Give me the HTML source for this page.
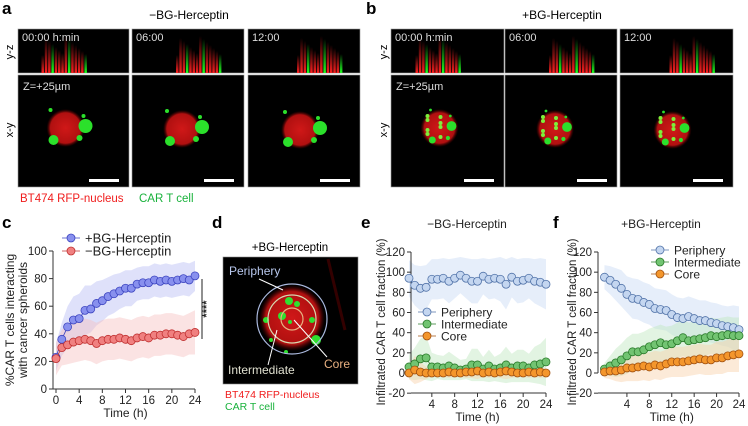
<!DOCTYPE html>
<html><head><meta charset="utf-8">
<style>
html,body{margin:0;padding:0;background:#fff;}
body{width:748px;height:426px;overflow:hidden;position:relative;font-family:"Liberation Sans",Arial,sans-serif;}
svg{position:absolute;left:0;top:0;}
</style></head>
<body>
<svg id="fig" width="748" height="426" viewBox="0 0 748 426" xmlns="http://www.w3.org/2000/svg" font-family="Liberation Sans, Arial, sans-serif">
<defs>
  <radialGradient id="sph" cx="50%" cy="50%" r="50%">
    <stop offset="0%" stop-color="#d01818"/><stop offset="80%" stop-color="#b01010"/><stop offset="100%" stop-color="#500000" stop-opacity="0"/>
  </radialGradient>
  <linearGradient id="yzr" x1="0" y1="1" x2="0" y2="0">
    <stop offset="0%" stop-color="#ff2020"/><stop offset="100%" stop-color="#ff2020" stop-opacity="0"/>
  </linearGradient>
  <linearGradient id="yzg" x1="0" y1="1" x2="0" y2="0">
    <stop offset="0%" stop-color="#20ff20"/><stop offset="100%" stop-color="#20ff20" stop-opacity="0"/>
  </linearGradient>
</defs>
<g id="micro"></g>
<g font-weight="bold" font-size="17" fill="#000">
  <text x="2" y="14">a</text>
  <text x="366" y="14">b</text>
  <text x="2" y="228">c</text>
  <text x="212" y="228">d</text>
  <text x="361" y="228">e</text>
  <text x="553" y="228">f</text>
</g>
<text x="189" y="19" font-size="12" text-anchor="middle">−BG-Herceptin</text>
<text x="562" y="19" font-size="12" text-anchor="middle">+BG-Herceptin</text>
<text transform="translate(13,52) rotate(-90)" font-size="11" text-anchor="middle">y-z</text>
<text transform="translate(13,130) rotate(-90)" font-size="11" text-anchor="middle">x-y</text>
<text transform="translate(387,52) rotate(-90)" font-size="11" text-anchor="middle">y-z</text>
<text transform="translate(387,130) rotate(-90)" font-size="11" text-anchor="middle">x-y</text>
<text x="20" y="202" font-size="11.5" fill="#f01c1c">BT474 RFP-nucleus</text>
<text x="139" y="202" font-size="11.5" fill="#19b23c">CAR T cell</text>

<!-- panel d -->
<g>
  <text x="290" y="251" font-size="11.5" text-anchor="middle">+BG-Herceptin</text>
  <rect x="223" y="257" width="135" height="127" fill="#000" stroke="#888" stroke-width="0.6"/>
  <line x1="328" y1="259" x2="345" y2="330" stroke="#300" stroke-width="3"/>
  <circle cx="292" cy="318" r="33" fill="url(#sph)"/>
  <g fill="#2fe02f">
    <circle cx="289" cy="301" r="4"/><circle cx="297" cy="304" r="3"/><circle cx="282" cy="316" r="4"/>
    <circle cx="266" cy="320" r="3"/><circle cx="312" cy="320" r="3"/><circle cx="316" cy="340" r="5"/>
    <circle cx="290" cy="322" r="2"/><circle cx="271" cy="340" r="2"/><circle cx="286" cy="352" r="2"/>
  </g>
  <circle cx="292" cy="319" r="35" fill="none" stroke="#aab8dd" stroke-width="1.2"/>
  <circle cx="292" cy="319" r="24" fill="none" stroke="#d8d8b0" stroke-width="1.2"/>
  <circle cx="292" cy="319" r="11" fill="none" stroke="#e8b080" stroke-width="1.2"/>
  <line x1="259" y1="279" x2="283" y2="290" stroke="#fff" stroke-width="1"/>
  <line x1="294" y1="320" x2="327" y2="357" stroke="#fff" stroke-width="1"/>
  <line x1="277" y1="330" x2="268" y2="365" stroke="#fff" stroke-width="1"/>
  <text x="229" y="275" font-size="12" fill="#b8c8ee">Periphery</text>
  <text x="228" y="374" font-size="12" fill="#e0e0d0">Intermediate</text>
  <text x="324" y="368" font-size="12" fill="#e8b080">Core</text>
  <text x="225" y="398" font-size="10.5" fill="#f01c1c">BT474 RFP-nucleus</text>
  <text x="225" y="410" font-size="10.5" fill="#19b23c">CAR T cell</text>
</g>

<g id="chartC"></g>
<g id="chartE"></g>
<g id="chartF"></g>
</svg>
<script>
// ---------- chart data ----------
const hours = [0,1,2,3,4,5,6,7,8,9,10,11,12,13,14,15,16,17,18,19,20,21,22,23,24];
const cPlus = [23,36,45,50,51,57,58,62,64,67,69,71,73,73,76,77,77,79,78,79,78,79,80,79,82];
const cPlusSd = [10,12,15,17,18,18,17,16,15,14,14,13,13,13,12,12,12,12,12,12,12,12,12,12,11];
const cMinus = [22,30,32,34,35,36,35,33,35,36,36,37,36,35,37,38,37,39,39,40,40,39,38,40,41];
const cMinusSd = [12,13,14,15,15,15,15,15,15,15,15,15,15,15,15,15,15,15,15,15,15,15,15,15,16];
const cTicksY = [0,20,40,60,80,100];
const cTicksX = [0,4,8,12,16,20,24];

const ePeriph = [94,87,84,85,93,93,94,91,94,97,94,91,91,96,93,94,93,88,95,91,92,94,91,90,88];
const ePeriphSd = [18,20,22,22,20,20,20,22,20,18,20,22,22,18,20,20,22,25,20,22,22,20,22,24,25];
const eInter = [6,9,14,15,6,6,5,7,5,3,4,8,8,4,7,4,5,8,5,7,7,5,8,9,11];
const eInterSd = [12,16,20,22,14,12,12,14,12,10,10,16,16,12,16,12,14,18,14,16,16,14,18,20,24];
const eCore = [0,3,1,0,0,0,0,1,0,0,1,1,2,0,1,0,1,2,1,0,0,1,0,1,0];
const eCoreSd = [6,14,10,6,4,4,4,6,4,4,6,6,8,4,6,4,6,8,6,4,4,6,4,6,4];

const fPeriph = [95,92,88,84,78,74,73,70,68,64,63,62,58,55,54,56,54,52,52,50,49,47,46,45,43];
const fPeriphSd = [12,14,16,18,18,20,20,20,20,20,20,20,20,20,20,20,20,20,20,20,20,20,20,22,23];
const fInter = [4,7,10,13,17,21,21,23,26,28,30,28,29,32,35,32,33,34,35,37,36,37,38,37,37];
const fInterSd = [6,10,14,16,18,18,18,18,18,18,18,18,18,18,18,18,18,18,18,18,18,18,18,18,18];
const fCore = [1,2,2,3,5,5,6,7,6,8,7,9,11,11,11,12,13,14,13,13,15,15,17,18,19];
const fCoreSd = [6,8,10,12,13,13,14,14,14,14,14,14,15,15,15,15,15,15,15,15,16,16,16,17,18];
const efTicksY = [-20,0,20,40,60,80,100,120];
const efTicksX = [4,8,12,16,20,24];

// ---------- microscopy panels ----------
const NS = 'http://www.w3.org/2000/svg';
function mk(tag, attrs, parent){const e=document.createElementNS(NS,tag);for(const k in attrs)e.setAttribute(k,attrs[k]);parent.appendChild(e);return e;}
const micro = document.getElementById('micro');
const cols = [[18,129],[132,244],[248,360],[391,504],[505,617],[620,733]];
const stamps = ['00:00 h:min','06:00','12:00'];
cols.forEach((c,i)=>{
  const w=c[1]-c[0];
  const yz=mk('rect',{x:c[0],y:29,width:w,height:44,fill:'#000',stroke:'#999','stroke-width':0.6},micro);
  
  
  const cx=c[0]+w/2+(i%3===0?-10:(i%3===1?10:15));
  for(let k=0;k<14;k++){
    const xx=cx-22+k*3.3, h=18+((k*37)%20);
    const isG=(k%5===3);
    mk('rect',{x:xx,y:73-h,width:2.5,height:h,fill:isG?'url(#yzg)':'url(#yzr)'},micro);
  }
  const t=mk('text',{x:c[0]+4,y:41,'font-size':11,fill:'#ddd'},micro);t.textContent=stamps[i%3];
  
  
  const xy=mk('rect',{x:c[0],y:75,width:w,height:112,fill:'#000',stroke:'#999','stroke-width':0.6},micro);
  
  
  const sx=c[0]+w/2-8+(i%3)*2, sy=128+(i%3);
  mk('circle',{cx:sx,cy:sy,r:19,fill:'url(#sph)'},micro);
  const g=[[20,-2,7],[-12,12,5],[18,-12,2],[-15,-18,2],[14,10,3]];
  g.forEach(p=>mk('circle',{cx:sx+p[0]*(i>=3?0.6:1),cy:sy+p[1],r:p[2]*(i>=3?0.7:1),fill:'#2be02b'},micro));
  if(i>=3){for(let k=0;k<8;k++)mk('circle',{cx:sx-12+((k*13)%26),cy:sy-12+((k*7)%24),r:2,fill:'#7ef03a'},micro);}
  mk('rect',{x:c[1]-40,y:179,width:30,height:3,fill:'#fff'},micro);
  if(i%3===0){const z=mk('text',{x:c[0]+5,y:90,'font-size':11,fill:'#ddd'},micro);z.textContent='Z=+25µm';
    
    }
});

// ---------- line chart builder ----------
function chart(gid, opt){
  const g=document.getElementById(gid);
  const sx=v=>opt.x0+(v-opt.xmin)*(opt.x1-opt.x0)/(opt.xmax-opt.xmin);
  const sy=v=>opt.y0+(v-opt.ymin)*(opt.y1-opt.y0)/(opt.ymax-opt.ymin);
  // bands
  opt.series.forEach(s=>{
    let d='';
    hours.forEach((h,i)=>{d+=(i?'L':'M')+sx(h).toFixed(1)+','+sy(s.v[i]+s.sd[i]).toFixed(1);});
    for(let i=hours.length-1;i>=0;i--)d+='L'+sx(hours[i]).toFixed(1)+','+sy(s.v[i]-s.sd[i]).toFixed(1);
    const p=mk('path',{d:d+'Z',fill:s.band,'fill-opacity':0.45},g);
    
    
  });
  // axes
  const yl=mk('line',{x1:opt.ax,y1:sy(opt.ymin),x2:opt.ax,y2:sy(opt.ymax),stroke:'#333','stroke-width':1},g);
  
  
  const xl=mk('line',{x1:opt.ax,y1:opt.axY,x2:sx(opt.xmax),y2:opt.axY,stroke:'#333','stroke-width':1},g);
  
  
  opt.ty.forEach(v=>{
    mk('line',{x1:opt.ax-4,y1:sy(v),x2:opt.ax,y2:sy(v),stroke:'#333'},g);
    const t=mk('text',{x:opt.ax-6,y:sy(v)+4,'font-size':11.5,'text-anchor':'end',fill:'#222'},g);t.textContent=v;
    
    
  });
  opt.tx.forEach(v=>{
    mk('line',{x1:sx(v),y1:opt.axY,x2:sx(v),y2:opt.axY+4,stroke:'#333'},g);
    const t=mk('text',{x:sx(v),y:opt.axY+15,'font-size':11.5,'text-anchor':'middle',fill:'#222'},g);t.textContent=v;
    
    
  });
  const xt=mk('text',{x:(sx(opt.xmin)+sx(opt.xmax))/2,y:opt.axY+28,'font-size':12,'text-anchor':'middle',fill:'#222'},g);
  xt.textContent='Time (h)';
  
  
  // series
  opt.series.forEach(s=>{
    let d='';hours.forEach((h,i)=>{d+=(i?'L':'M')+sx(h).toFixed(1)+','+sy(s.v[i]).toFixed(1);});
    mk('path',{d:d,fill:'none',stroke:s.stroke,'stroke-width':0.8},g);
    hours.forEach((h,i)=>{
      const c=mk('circle',{cx:sx(h),cy:sy(s.v[i]),r:opt.r,fill:s.fill,stroke:s.stroke,'stroke-width':0.8},g);
      
      
    });
  });
  // legend
  opt.series.forEach((s,i)=>{
    const ly=opt.legY+i*opt.legDy;
    mk('line',{x1:opt.legX-9,y1:ly,x2:opt.legX+9,y2:ly,stroke:s.stroke,'stroke-width':0.8},g);
    const c=mk('circle',{cx:opt.legX,cy:ly,r:opt.r,fill:s.fill,stroke:s.stroke,'stroke-width':0.8},g);
    
    
    const t=mk('text',{x:opt.legX+opt.legGap,y:ly+4.5,'font-size':opt.legFs,fill:'#222'},g);t.textContent=s.label;
    
    
  });
  return {sx,sy};
}

chart('chartC',{x0:56,x1:195,xmin:0,xmax:24,y0:389,y1:251,ymin:0,ymax:100,ax:53,axY:389,
  ty:cTicksY,tx:cTicksX,r:4,legX:71,legY:238,legDy:13,legGap:14,legFs:13,
  series:[
    {name:'plus-bg-herceptin',label:'+BG-Herceptin',v:cPlus,sd:cPlusSd,fill:'#8890ee',stroke:'#3c44c0',band:'#b8bdf5'},
    {name:'minus-bg-herceptin',label:'−BG-Herceptin',v:cMinus,sd:cMinusSd,fill:'#f08080',stroke:'#c03030',band:'#f7c0c0'}
  ]});
chart('chartE',{x0:409,x1:546,xmin:0,xmax:24,y0:373,y1:252,ymin:0,ymax:120,ax:411,axY:393,
  ty:efTicksY,tx:efTicksX,r:4,legX:427,legY:312,legDy:12,legGap:14,legFs:12,
  series:[
    {name:'periphery',label:'Periphery',v:ePeriph,sd:ePeriphSd,fill:'#c4d6f0',stroke:'#5072a8',band:'#c8daf4'},
    {name:'intermediate',label:'Intermediate',v:eInter,sd:eInterSd,fill:'#72c472',stroke:'#2a7a2a',band:'#bfe6bf'},
    {name:'core',label:'Core',v:eCore,sd:eCoreSd,fill:'#f4962c',stroke:'#a05010',band:'#f8d0a8'}
  ]});
chart('chartF',{x0:604.5,x1:739,xmin:0,xmax:24,y0:373,y1:252,ymin:0,ymax:120,ax:598,axY:393,
  ty:efTicksY,tx:efTicksX,r:4,legX:660,legY:250,legDy:12,legGap:14,legFs:12,
  series:[
    {name:'periphery',label:'Periphery',v:fPeriph,sd:fPeriphSd,fill:'#c4d6f0',stroke:'#5072a8',band:'#c8daf4'},
    {name:'intermediate',label:'Intermediate',v:fInter,sd:fInterSd,fill:'#72c472',stroke:'#2a7a2a',band:'#bfe6bf'},
    {name:'core',label:'Core',v:fCore,sd:fCoreSd,fill:'#f4962c',stroke:'#a05010',band:'#f8d0a8'}
  ]});

// extra labels
const fig=document.getElementById('fig');
function txt(name,attrs,s){const t=mk('text',attrs,fig);t.textContent=s;
  
  return t;}
txt('y-axis-title-c-line1',{transform:'translate(14,320) rotate(-90)','font-size':12,'text-anchor':'middle',fill:'#222'},'%CAR T cells interacting');
txt('y-axis-title-c-line2',{transform:'translate(27,320) rotate(-90)','font-size':12,'text-anchor':'middle',fill:'#222'},'with cancer spheroids');
txt('y-axis-title-e',{transform:'translate(385,322) rotate(-90)','font-size':11.5,'text-anchor':'middle',fill:'#222'},'Infiltrated CAR T cell fraction (%)');
txt('y-axis-title-f',{transform:'translate(576,322) rotate(-90)','font-size':11.5,'text-anchor':'middle',fill:'#222'},'Infiltrated CAR T cell fraction (%)');
txt('panel-e-title',{x:467,y:228,'font-size':12,'text-anchor':'middle',fill:'#222'},'−BG-Herceptin');
txt('panel-f-title',{x:661,y:228,'font-size':12,'text-anchor':'middle',fill:'#222'},'+BG-Herceptin');
const sig=mk('line',{x1:202,y1:279,x2:202,y2:339,stroke:'#222','stroke-width':1},fig);


txt('significance-stars',{transform:'translate(210,309) rotate(-90)','font-size':11,'text-anchor':'middle',fill:'#222','font-weight':'bold'},'****');
</script>
</body></html>
